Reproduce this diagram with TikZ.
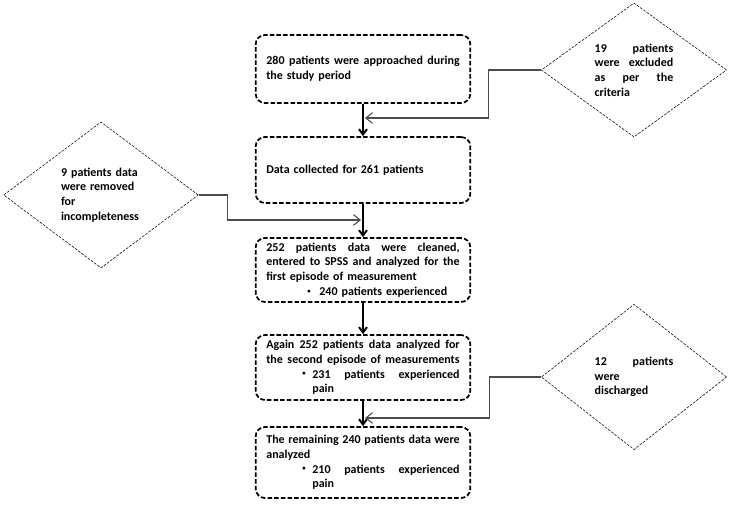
\documentclass[tikz,border=0pt]{standalone}
\usepackage{fontspec}
\setmainfont{Carlito}
\usetikzlibrary{shapes.geometric,arrows.meta}
\newcommand{\dotmark}{\raisebox{1.6pt}{\fontsize{5}{5}\selectfont\textbullet}}

\begin{document}
\begin{tikzpicture}[x=0.75pt, y=-0.75pt, >={Straight Barb[length=4pt,width=6pt]}, font=\fontsize{9}{11}\selectfont\bfseries]
        % Define node styles
        \tikzstyle{stage}=[draw=black, line width=1.3pt, dash pattern=on 3.4pt off 1.6pt, rounded corners=7pt, text width=145pt, inner xsep=8pt, inner ysep=2pt, minimum width=161pt, align=left]
        \tikzstyle{decision}=[diamond, draw=black, line width=0.4pt, dash pattern=on 2pt off 1pt, aspect=1.4, inner sep=0pt, align=left]
        \tikzstyle{flow}=[->, line width=1.5pt]
        \tikzstyle{side}=[-{Straight Barb[length=5pt,width=8pt]}, draw=black!70, line width=0.8pt]

        \useasboundingbox (0,0) rectangle (732,505);

        % Main stages
        \node[stage, minimum height=51pt] (box-1) at (363,69) {280\hfill patients\hfill were\hfill approached\hfill during\\the study period};
        \node[stage, minimum height=49.5pt] (box-2) at (363,170) {Data collected for 261 patients};
        \node[stage, minimum height=48pt] (box-3) at (363,270) {252\hfill patients\hfill data\hfill were\hfill cleaned,\\entered\hfill to\hfill SPSS\hfill and\hfill analyzed\hfill for\hfill the\\first episode of measurement\\\hspace*{30.75pt}\makebox[9pt][l]{\dotmark}240 patients experienced};
        \node[stage, minimum height=48.75pt] (box-4) at (363,367.5) {Again\hfill 252\hfill patients\hfill data\hfill analyzed\hfill for\\the\hfill second\hfill episode\hfill of\hfill measurements\\\hspace*{27pt}\makebox[7.5pt][l]{\dotmark}231\hfill patients\hfill experienced\\\hspace*{34.5pt}pain};
        \node[stage, minimum height=53.25pt] (box-5) at (363,462.5) {The\hfill remaining\hfill 240\hfill patients\hfill data\hfill were\\analyzed\\\hspace*{27pt}\makebox[7.5pt][l]{\dotmark}210\hfill patients\hfill experienced\\\hspace*{34.5pt}pain};

        % Exclusions
        \node[decision, minimum width=139pt, minimum height=100.5pt, text width=59pt] (excl-1) at (634,70) {19\hfill patients\\were\hfill excluded\\as\hfill per\hfill the\\criteria};
        \node[decision, minimum width=146pt, minimum height=109.5pt, text width=60pt] (excl-2) at (101,195) {9 patients data\\were removed\\for\\incompleteness};
        \node[decision, minimum width=139pt, minimum height=109pt, text width=59pt] (excl-3) at (634,377) {12\hfill patients\\were\\discharged};

        % Connect the stages
        \foreach \a/\b in {1/2,2/3,3/4,4/5}
            \draw[flow] (box-\a) -- (box-\b);

        % Connect exclusions with the main line
        \coordinate (join-1) at (365,118);
        \coordinate (join-2) at (361,220);
        \coordinate (join-3) at (365,418);
        \draw[side] (excl-1.west) -- ++(-53,0) |- (join-1);
        \draw[side] (excl-2.east) -- ++(29,0) |- (join-2);
        \draw[side] (excl-3.west) -- ++(-52,0) |- (join-3);
    \end{tikzpicture}
\end{document}
